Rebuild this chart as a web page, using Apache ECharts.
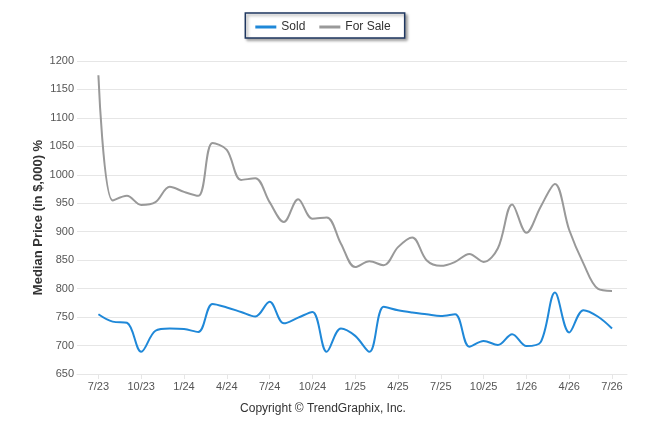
<!DOCTYPE html>
<html><head><meta charset="utf-8">
<script src="https://cdn.jsdelivr.net/npm/echarts@6/dist/echarts.min.js"></script>
<style>html,body{margin:0;padding:0;background:#fff}#c{width:646px;height:434px}</style>
</head><body><div id="c"></div>
<script>
const months = ["7/23","8/23","9/23","10/23","11/23","12/23","1/24","2/24","3/24","4/24","5/24","6/24","7/24","8/24","9/24","10/24","11/24","12/24","1/25","2/25","3/25","4/25","5/25","6/25","7/25","8/25","9/25","10/25","11/25","12/25","1/26","2/26","3/26","4/26","5/26","6/26","7/26"];
const sold = [755,742,740,689,726,730,729,724,773,767,759,751,777,739,749,759,689,730,717,689,768,762,758,755,752,755,698,708,701,720,699,706,793,723,762,751,730];
const forSale = [1175,955,963,947,952,979,970,963,1056,1044,991,994,952,917,957,923,925,879,838,848,841,873,890,850,840,847,861,847,871,948,898,944,984,903,844,800,796];
const labelIdx = [0,3,6,9,12,15,18,21,24,27,30,33,36];
const yTicks = {min:650, max:1200, interval:50};

const pairs = arr => arr.map((v,i)=>[i,v]);
const chart = echarts.init(document.getElementById('c'));
const font = 'Liberation Sans, Arial, sans-serif';
chart.setOption({
  animation:false,
  textStyle:{fontFamily:font},
  legend:{
    top:13, left:'center',
    data:['Sold','For Sale'],
    icon:'rect', itemWidth:21, itemHeight:3, itemGap:14,
    padding:[8,14,5,10],
    borderColor:'#1f3760', borderWidth:1.5,
    backgroundColor:'#fff',
    shadowColor:'rgba(0,0,0,0.35)', shadowBlur:3, shadowOffsetX:2, shadowOffsetY:2,
    textStyle:{fontSize:12, color:'#333', fontFamily:font}
  },
  grid:{left:77, right:19, top:61, bottom:60, containLabel:false},
  xAxis:{
    type:'value', min:-1.5, max:37.05,
    splitLine:{show:false},
    axisLine:{show:true, lineStyle:{color:'#e6e6e6'}},
    axisTick:{show:true, customValues:labelIdx, length:5, lineStyle:{color:'#e6e6e6'}},
    axisLabel:{customValues:labelIdx, formatter:v=>months[Math.round(v)], color:'#555', fontSize:11, margin:7, fontFamily:font}
  },
  yAxis:{
    type:'value', min:yTicks.min, max:yTicks.max, interval:yTicks.interval,
    name:'Median Price (in $,000) %', nameLocation:'middle', nameGap:32, nameMoveOverlap:false,
    nameTextStyle:{fontSize:13, fontWeight:'bold', color:'#333', fontFamily:font},
    axisLine:{show:false}, axisTick:{show:false},
    axisLabel:{color:'#555', fontSize:11, margin:3, fontFamily:font, formatter:v=>String(v)},
    splitLine:{lineStyle:{color:'#e6e6e6'}}
  },
  graphic:[{type:'text', left:'center', top:403, style:{text:'Copyright © TrendGraphix, Inc.', fill:'#333', font:'12px '+font}}],
  series:[
    {name:'Sold', type:'line', data:pairs(sold), smooth:0.35, symbol:'none', lineStyle:{width:2, color:'#1f88d8'}, itemStyle:{color:'#1f88d8'}},
    {name:'For Sale', type:'line', data:pairs(forSale), smooth:0.35, symbol:'none', lineStyle:{width:2, color:'#999'}, itemStyle:{color:'#999'}}
  ]
});
</script></body></html>
